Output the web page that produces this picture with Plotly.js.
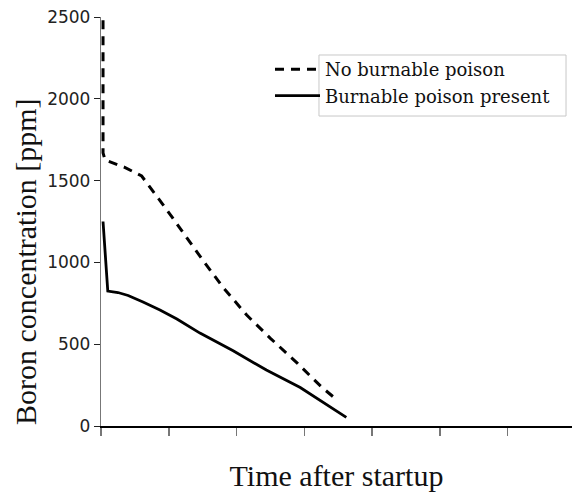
<!DOCTYPE html>
<html><head><meta charset="utf-8">
<script src="https://cdn.plot.ly/plotly-3.0.1.min.js"></script>
<style>html,body{margin:0;padding:0;background:#fff;}</style>
</head><body><div id="chart" style="width:572px;height:493px;"></div>
<script>
// Series: no burnable poison (dashed)
const noPoisonTime = [0.03, 0.03, 0.06, 0.35, 0.60, 0.75, 0.90, 1.06, 1.20, 1.50, 1.80, 2.15, 2.50, 2.90, 3.25, 3.50];
const noPoisonBoron = [2480, 1670, 1626, 1581, 1528, 1447, 1361, 1270, 1188, 1015, 848, 678, 536, 383, 240, 153];
// Series: burnable poison present (solid)
const poisonTime = [0.03, 0.10, 0.25, 0.40, 0.62, 0.87, 1.12, 1.46, 1.95, 2.44, 2.94, 3.62];
const poisonBoron = [1250, 825, 816, 798, 758, 709, 654, 568, 460, 342, 235, 53];
// Axis ticks
const yTicks = [0, 500, 1000, 1500, 2000, 2500];
const xTicks = [0, 1, 2, 3, 4, 5, 6];
const seriesNames = ["No burnable poison", "Burnable poison present"];
const xTitle = "Time after startup";
const yTitle = "Boron concentration [ppm]";

const traces = [
  {x: noPoisonTime, y: noPoisonBoron, name: seriesNames[0], mode: 'lines',
   line: {color: '#000', width: 3, dash: '9px,7px'}, hoverinfo: 'skip'},
  {x: poisonTime, y: poisonBoron, name: seriesNames[1], mode: 'lines',
   line: {color: '#000', width: 2.8}, hoverinfo: 'skip'}
];

const layout = {
  width: 572, height: 493,
  margin: {l: 101, r: 0, t: 17, b: 67, pad: 0},
  paper_bgcolor: '#fff', plot_bgcolor: '#fff',
  showlegend: true,
  legend: {x: 0.3588, y: 0.9169, xanchor: 'left', yanchor: 'top',
           bgcolor: 'rgba(0,0,0,0)', borderwidth: 0, itemwidth: 45,
           font: {family: 'DejaVu Serif', size: 18, color: '#111'}},
  xaxis: {range: [0, 6.95], tickvals: xTicks, showticklabels: false,
          ticks: 'outside', ticklen: 8, tickwidth: 1.5, tickcolor: '#777',
          showline: true, linecolor: '#000', linewidth: 1.5,
          showgrid: false, zeroline: false, automargin: false,
          title: {text: xTitle, standoff: 30, font: {family: 'Liberation Serif', size: 30, color: '#111'}}},
  yaxis: {range: [0, 2500], tickvals: yTicks, ticktext: yTicks.map(String),
          ticks: 'outside', ticklen: 6, tickwidth: 1, tickcolor: '#222',
          showline: true, linecolor: '#777', linewidth: 1.2,
          showgrid: false, zeroline: false, automargin: false,
          tickfont: {family: 'DejaVu Sans', size: 17, color: '#222'}},
  shapes: [{type: 'rect', xref: 'paper', yref: 'paper',
            x0: 0.4628, x1: 0.9873, y0: 0.7579, y1: 0.9071,
            line: {color: '#c8c8c8', width: 1}, fillcolor: 'rgba(0,0,0,0)'}],
  annotations: [{text: yTitle, textangle: -90, xref: 'paper', yref: 'paper',
                 x: -0.1614, y: 0.4034, xanchor: 'center', yanchor: 'middle', showarrow: false,
                 font: {family: 'Liberation Serif', size: 30, color: '#111'}}]
};

Plotly.newPlot('chart', traces, layout, {displayModeBar: false, staticPlot: true});
</script>
</body></html>
